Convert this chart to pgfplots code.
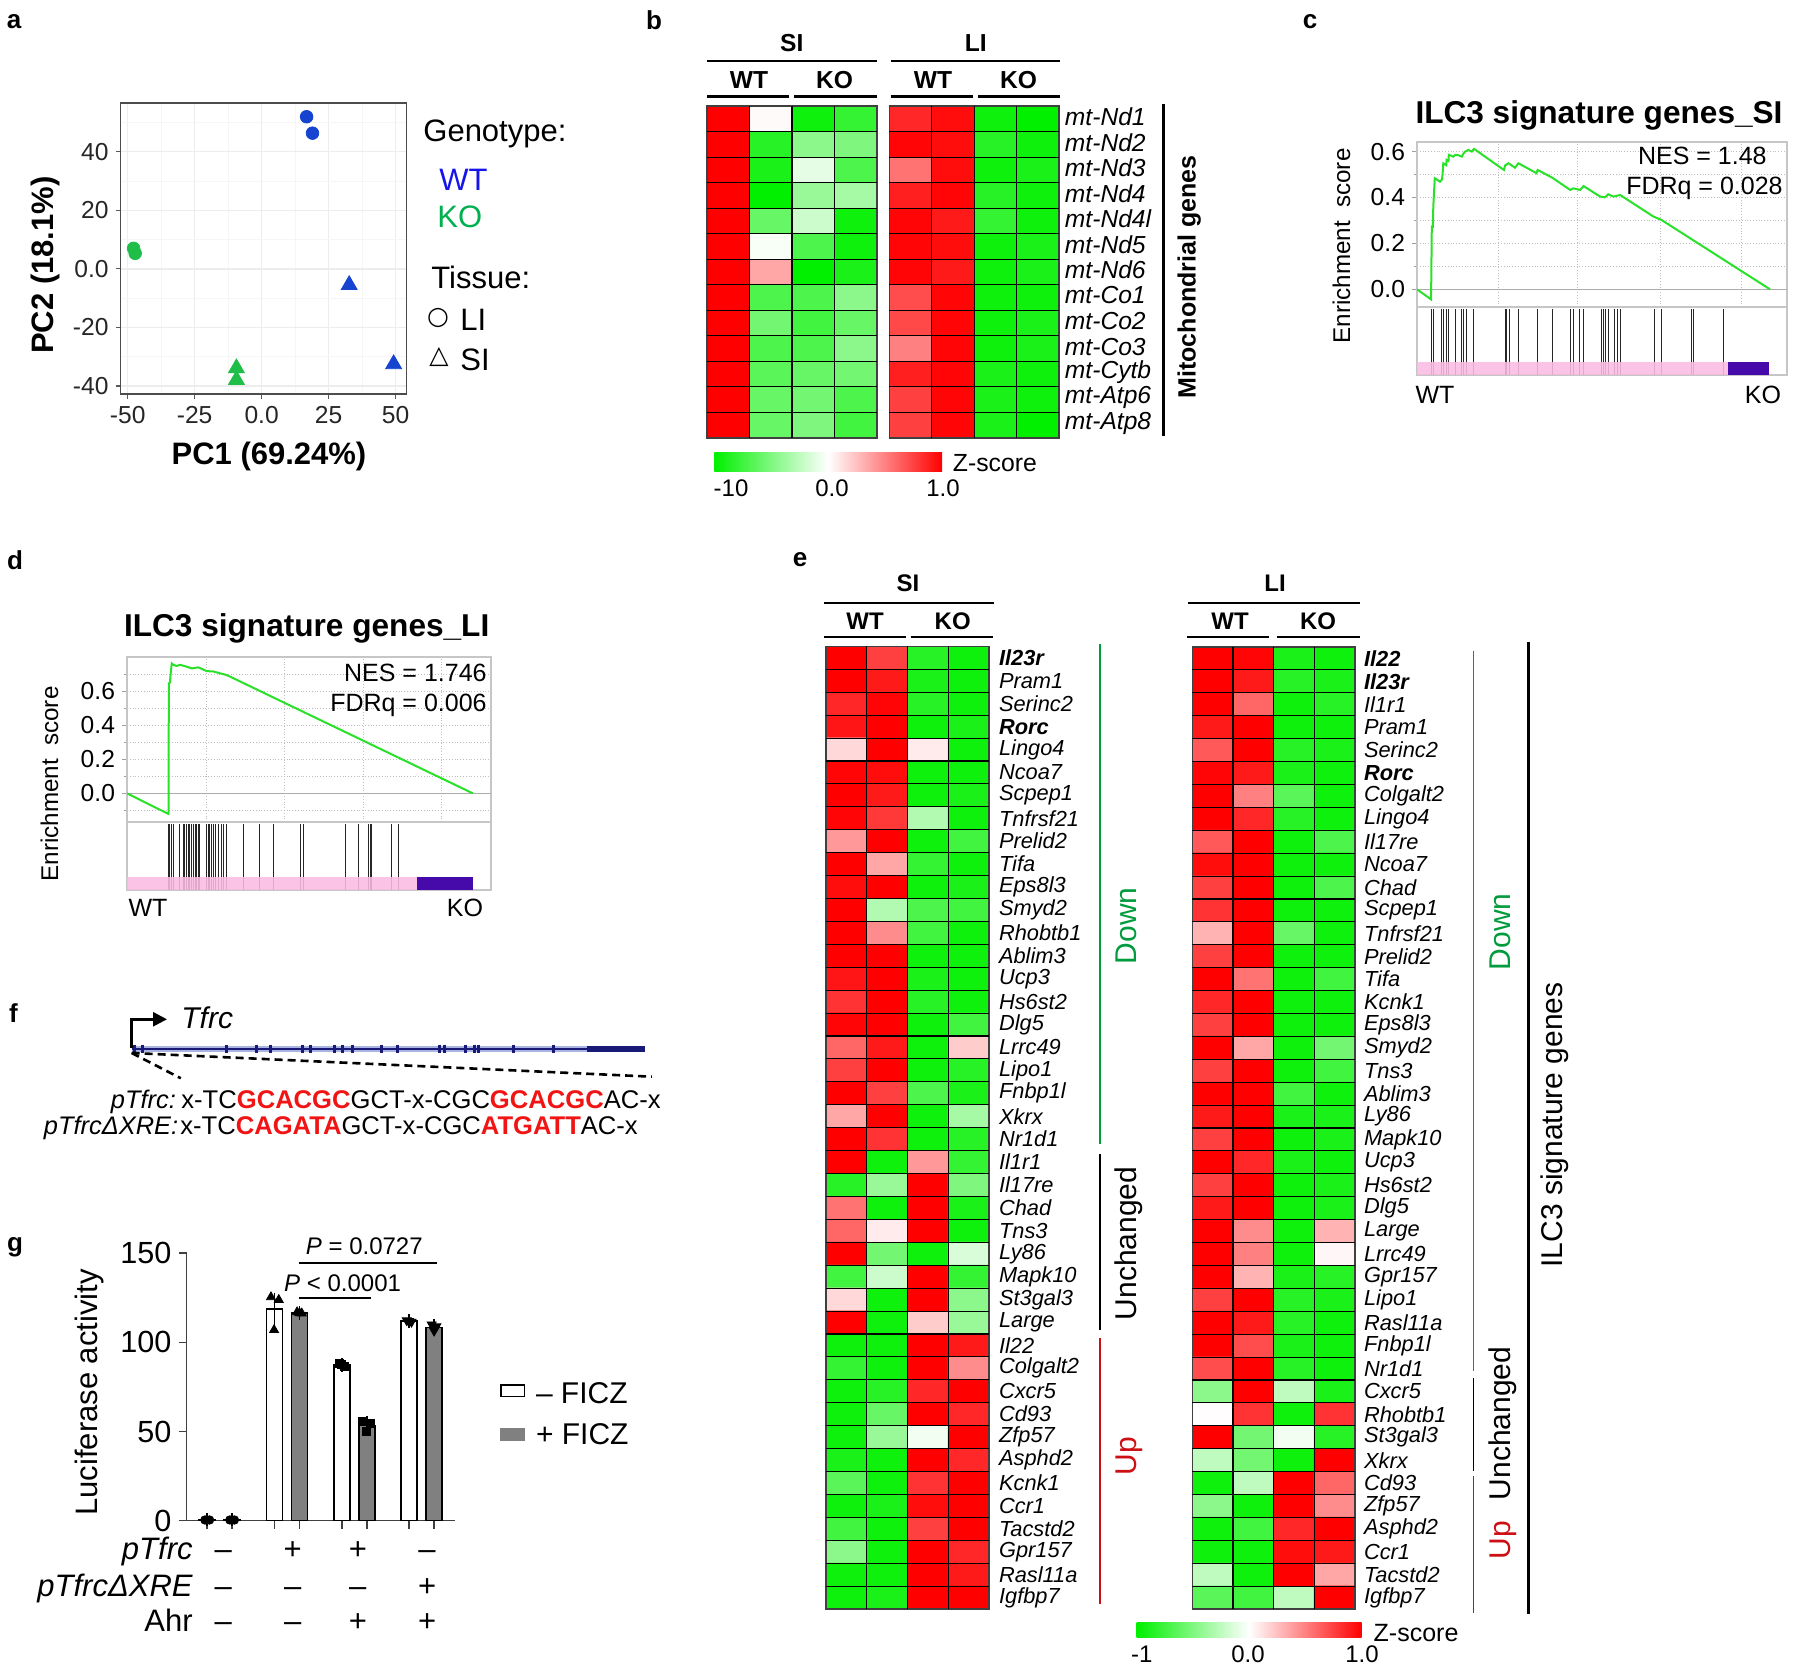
\documentclass[border=0pt]{standalone}
\usepackage{fontspec}
\setmainfont{Liberation Sans}
\newfontfamily\djv{DejaVu Sans}
\usepackage{pgfplots}
\pgfplotsset{compat=1.18}
\usetikzlibrary{arrows.meta}
\newcommand\fs[1]{\fontsize{#1}{#1}\selectfont}
\definecolor{pcablue}{RGB}{22,68,208}
\definecolor{pcagreen}{RGB}{30,190,72}
\definecolor{wtblue}{RGB}{20,20,235}
\definecolor{kogreen}{RGB}{0,175,80}
\definecolor{gseagreen}{RGB}{40,225,40}
\definecolor{gseapink}{RGB}{250,188,228}
\definecolor{gseapurple}{RGB}{70,10,170}
\definecolor{downgreen}{RGB}{0,155,60}
\definecolor{upred}{RGB}{205,15,20}
\definecolor{seqred}{RGB}{240,20,20}
\definecolor{genenavy}{RGB}{25,25,120}
\definecolor{genelight}{RGB}{170,180,225}
\definecolor{barfill}{RGB}{128,128,128}
\definecolor{hmgreen}{RGB}{0,240,0}
\pgfplotsset{
  every axis/.append style={/pgf/number format/assume math mode=true},
  heat/.style={scale only axis, xmin=-0.5, xmax=3.5, y dir=reverse,
    colormap={zs}{rgb255=(0,240,0) rgb255=(255,255,255) rgb255=(255,0,0)},
    point meta min=-1, point meta max=1,
    xtick=\empty,
    extra x ticks={0.5,1.5,2.5}, extra x tick labels={},
    extra x tick style={grid=major},
    major grid style={black, line width=0.55pt},
    major tick length=0pt,
    axis on top,
    axis line style={black!75, line width=0.6pt},
  },
  gsea/.style={scale only axis, xmin=0, xmax=1,
    xticklabels={}, xtick style={draw=none},
    ytick={0,0.2,0.4,0.6},
    ytick pos=left, tick align=outside,
    major tick length=2.5pt, minor tick length=1.5pt,
    yticklabel style={/pgf/number format/fixed, /pgf/number format/fixed zerofill, /pgf/number format/precision=1, font=\fs{12.3}},
    xmajorgrids, ymajorgrids, yminorgrids,
    major grid style={densely dotted, gray!50, line width=0.5pt},
    minor grid style={densely dotted, gray!50, line width=0.5pt},
    axis line style={gray!45, line width=0.7pt},
    ytick style={gray!75, line width=0.5pt},
  },
  gseabot/.style={scale only axis, xmin=0, xmax=1, ymin=0, ymax=1, ticks=none,
    axis line style={gray!45, line width=0.7pt}},
}
\begin{document}
\begin{tikzpicture}
\useasboundingbox (0,0) rectangle (900pt,835pt);

%================ panel a ================
\begin{axis}[at={(60.3pt,638pt)}, anchor=south west, scale only axis, width=142.95pt, height=145.5pt,
 xmin=-52.65, xmax=54.1, ymin=-42.7, ymax=56.6,
 xtick={-50,-25,0,25,50}, xticklabels={-50,-25,0.0,25,50},
 ytick={-40,-20,0,20,40}, yticklabels={-40,-20,0.0,20,40},
 minor xtick={-37.5,-12.5,12.5,37.5}, minor ytick={-30,-10,10,30,50},
 grid=both, major grid style={gray!14, line width=0.7pt}, minor grid style={gray!7, line width=0.4pt},
 tick align=outside, major tick length=2.5pt, minor tick length=0pt, tick pos=left,
 tick style={gray!70!black, line width=0.6pt},
 axis line style={gray!60!black, line width=0.6pt},
 tick label style={font=\fs{12.3}, text=black!85}]
\addplot[only marks, mark=*, mark size=3.15pt, pcablue] coordinates {(16.8,51.9)(19,46.3)};
\addplot[only marks, mark=*, mark size=3.15pt, pcagreen] coordinates {(-47.8,7.0)(-47.2,5.3)};
\addplot[only marks, mark=triangle*, mark size=4.6pt, pcablue] coordinates {(32.7,-5.5)(49.3,-32.5)};
\addplot[only marks, mark=triangle*, mark size=4.6pt, pcagreen] coordinates {(-9.4,-33.9)(-9.4,-37.9)};
\end{axis}

%================ panel b SI ================
\begin{axis}[heat, at={(353.5pt,616pt)}, anchor=south west, width=85pt, height=166pt,
 ymin=-0.5, ymax=12.5, ytick=\empty,
 extra y ticks={0.5,1.5,...,11.5}, extra y tick labels={}, extra y tick style={grid=major}]
\addplot[matrix plot*, mesh/cols=4, point meta=explicit] table[meta=c, row sep=\\]{
x y c\\
0 0 1\\ 1 0 0.02\\ 2 0 -0.95\\ 3 0 -0.8\\
0 1 1\\ 1 1 -0.85\\ 2 1 -0.45\\ 3 1 -0.5\\
0 2 1\\ 1 2 -0.9\\ 2 2 -0.1\\ 3 2 -0.7\\
0 3 1\\ 1 3 -1\\ 2 3 -0.4\\ 3 3 -0.35\\
0 4 1\\ 1 4 -0.6\\ 2 4 -0.2\\ 3 4 -0.95\\
0 5 1\\ 1 5 -0.03\\ 2 5 -0.7\\ 3 5 -0.95\\
0 6 1\\ 1 6 0.35\\ 2 6 -1\\ 3 6 -0.9\\
0 7 1\\ 1 7 -0.7\\ 2 7 -0.7\\ 3 7 -0.45\\
0 8 1\\ 1 8 -0.55\\ 2 8 -0.75\\ 3 8 -0.6\\
0 9 1\\ 1 9 -0.7\\ 2 9 -0.7\\ 3 9 -0.45\\
0 10 1\\ 1 10 -0.65\\ 2 10 -0.6\\ 3 10 -0.55\\
0 11 1\\ 1 11 -0.6\\ 2 11 -0.55\\ 3 11 -0.7\\
0 12 1\\ 1 12 -0.6\\ 2 12 -0.5\\ 3 12 -0.75\\
};
\end{axis}

%================ panel b LI ================
\begin{axis}[heat, at={(444.65pt,616pt)}, anchor=south west, width=84.8pt, height=166pt,
 ymin=-0.5, ymax=12.5, ytick={0,...,12}, yticklabel pos=right,
 yticklabels={mt-Nd1,mt-Nd2,mt-Nd3,mt-Nd4,mt-Nd4l,mt-Nd5,mt-Nd6,mt-Co1,mt-Co2,mt-Co3,mt-Cytb,mt-Atp6,mt-Atp8},
 yticklabel style={font=\itshape\fs{12.3}, xshift=-0.5pt, yshift=1pt},
 extra y ticks={0.5,1.5,...,11.5}, extra y tick labels={}, extra y tick style={grid=major}]
\addplot[matrix plot*, mesh/cols=4, point meta=explicit] table[meta=c, row sep=\\]{
x y c\\
0 0 0.85\\ 1 0 0.95\\ 2 0 -0.95\\ 3 0 -1\\
0 1 0.98\\ 1 1 0.95\\ 2 1 -0.85\\ 3 1 -0.95\\
0 2 0.55\\ 1 2 0.95\\ 2 2 -0.95\\ 3 2 -0.9\\
0 3 0.88\\ 1 3 0.98\\ 2 3 -0.85\\ 3 3 -0.95\\
0 4 0.98\\ 1 4 0.9\\ 2 4 -0.8\\ 3 4 -0.95\\
0 5 0.98\\ 1 5 0.95\\ 2 5 -0.95\\ 3 5 -0.9\\
0 6 0.98\\ 1 6 0.9\\ 2 6 -0.95\\ 3 6 -0.9\\
0 7 0.7\\ 1 7 0.98\\ 2 7 -0.95\\ 3 7 -0.95\\
0 8 0.72\\ 1 8 0.98\\ 2 8 -0.95\\ 3 8 -0.9\\
0 9 0.5\\ 1 9 0.98\\ 2 9 -0.95\\ 3 9 -0.9\\
0 10 0.88\\ 1 10 0.98\\ 2 10 -0.9\\ 3 10 -0.95\\
0 11 0.75\\ 1 11 0.98\\ 2 11 -0.9\\ 3 11 -0.95\\
0 12 0.75\\ 1 12 0.98\\ 2 12 -0.9\\ 3 12 -1\\
};
\end{axis}

%================ panel c ================
\begin{axis}[gsea, at={(708.5pt,681.5pt)}, anchor=south west, width=185pt, height=82.5pt,
 ymin=-0.077, ymax=0.642, xtick={0.219,0.435,0.657,0.878}, minor ytick={0.1,0.3,0.5}]
\addplot[gray!65, line width=0.7pt] coordinates {(0,0)(1,0)};
\addplot[gseagreen, line width=1pt] coordinates {
(0,0) (0.038,-0.044) (0.040,0.273) (0.043,0.272) (0.044,0.360) (0.046,0.421) (0.048,0.484)
(0.062,0.469) (0.067,0.478) (0.069,0.498) (0.071,0.549) (0.079,0.541) (0.080,0.564) (0.085,0.559) (0.086,0.586)
(0.098,0.578) (0.103,0.586) (0.112,0.584) (0.121,0.578) (0.125,0.590) (0.130,0.600) (0.139,0.607) (0.148,0.600) (0.154,0.612)
(0.235,0.520) (0.238,0.540) (0.247,0.549) (0.265,0.530) (0.274,0.549) (0.323,0.506) (0.326,0.520) (0.366,0.486)
(0.414,0.433) (0.422,0.440) (0.441,0.433) (0.450,0.450) (0.495,0.404) (0.508,0.401) (0.517,0.414) (0.531,0.404) (0.549,0.411)
(0.639,0.317) (0.661,0.302) (0.954,0)};
\end{axis}
\begin{axis}[gseabot, at={(708.5pt,681.5pt)}, anchor=north west, width=185pt, height=34pt]
\addplot[ycomb, black!85, line width=0.5pt, no markers] coordinates {
(0.040,0.97)(0.044,0.97)(0.067,0.97)(0.071,0.97)(0.080,0.97)(0.086,0.97)(0.103,0.97)(0.121,0.97)(0.125,0.97)(0.134,0.97)(0.152,0.97)
(0.238,0.97)(0.242,0.97)(0.251,0.97)(0.274,0.97)(0.325,0.97)(0.366,0.97)(0.415,0.97)(0.422,0.97)(0.438,0.97)(0.449,0.97)
(0.498,0.97)(0.505,0.97)(0.510,0.97)(0.517,0.97)(0.535,0.97)(0.541,0.97)(0.549,0.97)(0.641,0.97)(0.661,0.97)(0.742,0.97)(0.746,0.97)(0.827,0.97)};
\addplot[fill=gseapink, draw=none, fill opacity=0.88] coordinates {(0,0.19)(0.841,0.19)} \closedcycle;
\addplot[fill=gseapurple, draw=none] coordinates {(0.841,0.19)(0.951,0.19)} \closedcycle;
\end{axis}

%================ panel d ================
\begin{axis}[gsea, at={(63.5pt,424pt)}, anchor=south west, width=182pt, height=82.5pt,
 ymin=-0.168, ymax=0.80, xtick={0.219,0.434,0.649,0.865}, minor ytick={-0.1,0.1,0.3,0.5,0.7}]
\addplot[gray!65, line width=0.7pt] coordinates {(0,0)(1,0)};
\addplot[gseagreen, line width=1pt] coordinates {
(0,0) (0.114,-0.121) (0.115,0.645) (0.118,0.650) (0.120,0.704) (0.123,0.762) (0.127,0.755) (0.136,0.747) (0.146,0.754)
(0.164,0.743) (0.178,0.733) (0.196,0.739) (0.219,0.717) (0.237,0.715) (0.256,0.704) (0.274,0.694) (0.950,0)};
\end{axis}
\begin{axis}[gseabot, at={(63.5pt,424pt)}, anchor=north west, width=182pt, height=34pt]
\addplot[ycomb, black!85, line width=0.5pt, no markers] coordinates {
(0.114,0.97)(0.118,0.97)(0.123,0.97)(0.127,0.97)(0.144,0.97)(0.155,0.97)(0.159,0.97)(0.164,0.97)(0.168,0.97)(0.173,0.97)
(0.178,0.97)(0.182,0.97)(0.187,0.97)(0.191,0.97)(0.196,0.97)(0.200,0.97)(0.219,0.97)(0.224,0.97)(0.228,0.97)(0.233,0.97)
(0.237,0.97)(0.244,0.97)(0.251,0.97)(0.260,0.97)(0.265,0.97)(0.272,0.97)(0.321,0.97)(0.364,0.97)(0.402,0.97)(0.477,0.97)
(0.484,0.97)(0.599,0.97)(0.636,0.97)(0.663,0.97)(0.668,0.97)(0.672,0.97)(0.727,0.97)(0.745,0.97)};
\addplot[fill=gseapink, draw=none, fill opacity=0.88] coordinates {(0,0.19)(0.797,0.19)} \closedcycle;
\addplot[fill=gseapurple, draw=none] coordinates {(0.797,0.19)(0.951,0.19)} \closedcycle;
\end{axis}

%================ panel e SI ================
\begin{axis}[heat, at={(413pt,30.5pt)}, anchor=south west, width=81.5pt, height=481.3pt,
 ymin=-0.5, ymax=41.5, ytick={0,...,41}, yticklabel pos=right,
 yticklabels={{\bfseries Il23r},Pram1,Serinc2,{\bfseries Rorc},Lingo4,Ncoa7,Scpep1,Tnfrsf21,Prelid2,Tifa,Eps8l3,Smyd2,Rhobtb1,Ablim3,Ucp3,Hs6st2,Dlg5,Lrrc49,Lipo1,Fnbp1l,Xkrx,Nr1d1,Il1r1,Il17re,Chad,Tns3,Ly86,Mapk10,St3gal3,Large,Il22,Colgalt2,Cxcr5,Cd93,Zfp57,Asphd2,Kcnk1,Ccr1,Tacstd2,Gpr157,Rasl11a,Igfbp7},
 yticklabel style={font=\itshape\fs{10.9}, xshift=1.5pt},
 extra y ticks={0.5,1.5,...,40.5}, extra y tick labels={}, extra y tick style={grid=major}]
\addplot[matrix plot*, mesh/cols=4, point meta=explicit] table[meta=c, row sep=\\]{
x y c\\
0 0 1\\ 1 0 0.75\\ 2 0 -0.85\\ 3 0 -0.95\\
0 1 1\\ 1 1 0.9\\ 2 1 -0.9\\ 3 1 -0.95\\
0 2 0.85\\ 1 2 0.98\\ 2 2 -0.85\\ 3 2 -0.95\\
0 3 0.92\\ 1 3 1\\ 2 3 -0.95\\ 3 3 -0.9\\
0 4 0.15\\ 1 4 1\\ 2 4 0.08\\ 3 4 -0.95\\
0 5 0.98\\ 1 5 0.95\\ 2 5 -0.95\\ 3 5 -0.95\\
0 6 1\\ 1 6 0.9\\ 2 6 -0.95\\ 3 6 -0.9\\
0 7 0.98\\ 1 7 0.78\\ 2 7 -0.3\\ 3 7 -0.95\\
0 8 0.4\\ 1 8 1\\ 2 8 -0.95\\ 3 8 -0.75\\
0 9 1\\ 1 9 0.35\\ 2 9 -0.8\\ 3 9 -0.95\\
0 10 0.95\\ 1 10 1\\ 2 10 -0.95\\ 3 10 -0.9\\
0 11 1\\ 1 11 -0.3\\ 2 11 -0.7\\ 3 11 -0.75\\
0 12 1\\ 1 12 0.45\\ 2 12 -0.75\\ 3 12 -0.95\\
0 13 1\\ 1 13 1\\ 2 13 -0.95\\ 3 13 -0.95\\
0 14 0.92\\ 1 14 1\\ 2 14 -0.9\\ 3 14 -0.95\\
0 15 0.8\\ 1 15 1\\ 2 15 -0.85\\ 3 15 -0.95\\
0 16 0.98\\ 1 16 1\\ 2 16 -0.95\\ 3 16 -0.75\\
0 17 0.6\\ 1 17 0.9\\ 2 17 -0.95\\ 3 17 0.2\\
0 18 0.75\\ 1 18 1\\ 2 18 -0.95\\ 3 18 -0.85\\
0 19 1\\ 1 19 0.75\\ 2 19 -0.7\\ 3 19 -0.9\\
0 20 0.35\\ 1 20 1\\ 2 20 -0.95\\ 3 20 -0.35\\
0 21 1\\ 1 21 0.8\\ 2 21 -0.95\\ 3 21 -0.85\\
0 22 1\\ 1 22 -0.95\\ 2 22 0.4\\ 3 22 -0.8\\
0 23 -0.85\\ 1 23 -0.4\\ 2 23 1\\ 3 23 -0.5\\
0 24 0.55\\ 1 24 -0.95\\ 2 24 1\\ 3 24 -0.9\\
0 25 0.6\\ 1 25 0.08\\ 2 25 1\\ 3 25 -0.95\\
0 26 1\\ 1 26 -0.55\\ 2 26 -0.95\\ 3 26 -0.15\\
0 27 -0.75\\ 1 27 -0.2\\ 2 27 1\\ 3 27 -0.8\\
0 28 0.15\\ 1 28 -0.95\\ 2 28 1\\ 3 28 -0.45\\
0 29 1\\ 1 29 -0.95\\ 2 29 0.2\\ 3 29 -0.4\\
0 30 -0.95\\ 1 30 -0.95\\ 2 30 1\\ 3 30 0.9\\
0 31 -0.8\\ 1 31 -0.95\\ 2 31 1\\ 3 31 0.45\\
0 32 -0.95\\ 1 32 -0.85\\ 2 32 0.85\\ 3 32 1\\
0 33 -0.95\\ 1 33 -0.6\\ 2 33 1\\ 3 33 0.85\\
0 34 -0.95\\ 1 34 -0.4\\ 2 34 -0.05\\ 3 34 1\\
0 35 -0.9\\ 1 35 -0.95\\ 2 35 1\\ 3 35 0.85\\
0 36 -0.65\\ 1 36 -0.95\\ 2 36 0.8\\ 3 36 1\\
0 37 -0.95\\ 1 37 -0.9\\ 2 37 0.95\\ 3 37 1\\
0 38 -0.75\\ 1 38 -0.95\\ 2 38 0.75\\ 3 38 1\\
0 39 -0.45\\ 1 39 -0.95\\ 2 39 1\\ 3 39 0.85\\
0 40 -0.95\\ 1 40 -0.95\\ 2 40 1\\ 3 40 0.9\\
0 41 -0.95\\ 1 41 -0.9\\ 2 41 1\\ 3 41 1\\
};
\end{axis}

%================ panel e LI ================
\begin{axis}[heat, at={(596.15pt,30.5pt)}, anchor=south west, width=81.35pt, height=481pt,
 ymin=-0.5, ymax=41.5, ytick={0,...,41}, yticklabel pos=right,
 yticklabels={{\bfseries Il22},{\bfseries Il23r},Il1r1,Pram1,Serinc2,{\bfseries Rorc},Colgalt2,Lingo4,Il17re,Ncoa7,Chad,Scpep1,Tnfrsf21,Prelid2,Tifa,Kcnk1,Eps8l3,Smyd2,Tns3,Ablim3,Ly86,Mapk10,Ucp3,Hs6st2,Dlg5,Large,Lrrc49,Gpr157,Lipo1,Rasl11a,Fnbp1l,Nr1d1,Cxcr5,Rhobtb1,St3gal3,Xkrx,Cd93,Zfp57,Asphd2,Ccr1,Tacstd2,Igfbp7},
 yticklabel style={font=\itshape\fs{10.9}, xshift=1pt},
 extra y ticks={0.5,1.5,...,40.5}, extra y tick labels={}, extra y tick style={grid=major}]
\addplot[matrix plot*, mesh/cols=4, point meta=explicit] table[meta=c, row sep=\\]{
x y c\\
0 0 1\\ 1 0 0.98\\ 2 0 -0.9\\ 3 0 -0.95\\
0 1 1\\ 1 1 0.9\\ 2 1 -0.85\\ 3 1 -0.9\\
0 2 1\\ 1 2 0.6\\ 2 2 -0.95\\ 3 2 -0.85\\
0 3 0.9\\ 1 3 1\\ 2 3 -0.95\\ 3 3 -0.95\\
0 4 0.65\\ 1 4 1\\ 2 4 -0.85\\ 3 4 -0.9\\
0 5 0.98\\ 1 5 0.9\\ 2 5 -0.9\\ 3 5 -0.95\\
0 6 1\\ 1 6 0.5\\ 2 6 -0.65\\ 3 6 -0.95\\
0 7 1\\ 1 7 0.85\\ 2 7 -0.85\\ 3 7 -0.95\\
0 8 0.65\\ 1 8 1\\ 2 8 -0.95\\ 3 8 -0.7\\
0 9 0.95\\ 1 9 1\\ 2 9 -0.95\\ 3 9 -0.95\\
0 10 0.75\\ 1 10 1\\ 2 10 -0.95\\ 3 10 -0.7\\
0 11 0.8\\ 1 11 1\\ 2 11 -0.95\\ 3 11 -0.95\\
0 12 0.3\\ 1 12 1\\ 2 12 -0.6\\ 3 12 -0.95\\
0 13 0.75\\ 1 13 1\\ 2 13 -0.95\\ 3 13 -0.95\\
0 14 1\\ 1 14 0.55\\ 2 14 -0.95\\ 3 14 -0.75\\
0 15 0.85\\ 1 15 1\\ 2 15 -0.95\\ 3 15 -0.95\\
0 16 0.75\\ 1 16 1\\ 2 16 -0.95\\ 3 16 -0.95\\
0 17 1\\ 1 17 0.35\\ 2 17 -0.95\\ 3 17 -0.55\\
0 18 0.75\\ 1 18 1\\ 2 18 -0.95\\ 3 18 -0.75\\
0 19 1\\ 1 19 1\\ 2 19 -0.75\\ 3 19 -0.95\\
0 20 0.9\\ 1 20 1\\ 2 20 -0.9\\ 3 20 -0.9\\
0 21 0.75\\ 1 21 1\\ 2 21 -0.95\\ 3 21 -0.9\\
0 22 1\\ 1 22 0.85\\ 2 22 -0.9\\ 3 22 -0.95\\
0 23 0.75\\ 1 23 1\\ 2 23 -0.95\\ 3 23 -0.9\\
0 24 0.9\\ 1 24 1\\ 2 24 -0.95\\ 3 24 -0.9\\
0 25 1\\ 1 25 0.45\\ 2 25 -0.95\\ 3 25 0.3\\
0 26 1\\ 1 26 0.5\\ 2 26 -0.95\\ 3 26 0.03\\
0 27 1\\ 1 27 0.3\\ 2 27 -0.9\\ 3 27 -0.85\\
0 28 0.75\\ 1 28 1\\ 2 28 -0.85\\ 3 28 -0.9\\
0 29 1\\ 1 29 0.9\\ 2 29 -0.85\\ 3 29 -0.95\\
0 30 1\\ 1 30 0.7\\ 2 30 -0.9\\ 3 30 -0.95\\
0 31 0.7\\ 1 31 1\\ 2 31 -0.85\\ 3 31 -0.95\\
0 32 -0.45\\ 1 32 1\\ 2 32 -0.25\\ 3 32 -0.9\\
0 33 0.01\\ 1 33 0.8\\ 2 33 -0.95\\ 3 33 0.8\\
0 34 1\\ 1 34 -0.55\\ 2 34 -0.05\\ 3 34 -0.85\\
0 35 -0.25\\ 1 35 -0.55\\ 2 35 -0.95\\ 3 35 1\\
0 36 -0.95\\ 1 36 -0.25\\ 2 36 1\\ 3 36 0.6\\
0 37 -0.45\\ 1 37 -0.95\\ 2 37 1\\ 3 37 0.45\\
0 38 -0.95\\ 1 38 -0.75\\ 2 38 0.85\\ 3 38 1\\
0 39 -0.95\\ 1 39 -0.95\\ 2 39 0.95\\ 3 39 0.9\\
0 40 -0.25\\ 1 40 -0.95\\ 2 40 1\\ 3 40 0.35\\
0 41 -0.65\\ 1 41 -0.75\\ 2 41 -0.25\\ 3 41 1\\
};
\end{axis}

%================ panel f gene model ================
\begin{axis}[at={(65pt,308pt)}, anchor=south west, scale only axis, width=260pt, height=5pt,
 xmin=130, xmax=650, ymin=-1, ymax=1, hide axis, clip=false]
\addplot[genelight, line width=3pt] coordinates {(131.7,0)(645,0)};
\addplot[genenavy, line width=1pt] coordinates {(131.7,0)(645,0)};
\addplot[genenavy, only marks, mark=|, mark size=2.2pt, mark options={line width=1.5pt}] coordinates {
(134,0)(142,0)(226.8,0)(256.7,0)(270,0)(302.7,0)(310.3,0)(334.8,0)(342.9,0)(352.7,0)(381.7,0)(397.3,0)(439.7,0)(444.2,0)(465.2,0)(474.1,0)(478.6,0)(513.4,0)(553.6,0)};
\addplot[genenavy, line width=3pt] coordinates {(587,0)(645,0)};
\end{axis}

%================ panel g ================
\begin{axis}[at={(93.25pt,74.65pt)}, anchor=south west, scale only axis, width=134pt, height=133.7pt,
 xmin=0.507, xmax=4.489, ymin=0, ymax=150,
 axis x line=bottom, axis y line=left, axis line style={-, black!75, line width=0.8pt},
 ytick={0,50,100,150}, xtick={0.814,1.186,1.814,2.186,2.814,3.186,3.814,4.186}, xticklabels={},
 tick align=outside, major tick length=4pt, tick style={black!75, line width=0.8pt},
 yticklabel style={font=\fs{15.3}}, clip=false]
\addplot[ybar, bar width=0.238, bar shift=0pt, fill=white, draw=black, line width=0.75pt,
 error bars/.cd, y dir=both, y explicit, error bar style={line width=0.75pt, black}, error mark options={mark size=3pt, line width=0.75pt, black}]
 coordinates {(0.814,0.5) +- (0,0.2) (1.814,118.8) +- (0,5.6) (2.814,87.4) +- (0,0.6) (3.814,111.9) +- (0,0.5)};
\addplot[ybar, bar width=0.238, bar shift=0pt, fill=barfill, draw=black, line width=0.75pt,
 error bars/.cd, y dir=both, y explicit, error bar style={line width=0.75pt, black}, error mark options={mark size=3pt, line width=0.75pt, black}]
 coordinates {(1.186,0.5) +- (0,0.2) (2.186,116.6) +- (0,0.5) (3.186,53.4) +- (0,1.8) (4.186,108.5) +- (0,1)};
\addplot[only marks, mark=*, mark size=2.1pt, black] coordinates {(0.78,0.4)(0.814,0.4)(0.85,0.4)(1.15,0.4)(1.186,0.4)(1.22,0.4)};
\addplot[only marks, mark=triangle*, mark size=2.6pt, black] coordinates {(1.762,125.4)(1.878,123.9)(1.808,107)(2.15,117)(2.186,116.5)(2.22,116.3)};
\addplot[only marks, mark=square*, mark size=2pt, black] coordinates {(2.78,88)(2.814,87.5)(2.85,86.8)(3.12,55.6)(3.245,54.5)(3.18,50)};
\addplot[only marks, mark=triangle*, mark size=2.6pt, mark options={rotate=180}, black] coordinates {(3.78,112.3)(3.814,112)(3.85,111.5)(4.15,110)(4.186,106.5)(4.22,109)};
\end{axis}

%================ annotations ================
\begin{scope}[x=0.5pt, y=-0.5pt, yshift=835pt, every node/.style={inner sep=0pt}]
% panel letters
\node[font=\fs{13}\bfseries] at (14,22) {a};
\node[font=\fs{13}\bfseries] at (654,20) {b};
\node[font=\fs{13}\bfseries] at (1310,22) {c};
\node[font=\fs{13}\bfseries] at (15,560) {d};
\node[font=\fs{13}\bfseries] at (800,560) {e};
\node[font=\fs{13}\bfseries] at (13.4,1013) {f};
\node[font=\fs{13}\bfseries] at (15,1247) {g};

% panel a labels and legend
\node[anchor=base, font=\fs{15.5}\bfseries] at (269,465) {PC1 (69.24\%)};
\node[anchor=base, rotate=90, font=\fs{15.5}\bfseries] at (54,265) {PC2 (18.1\%)};
\node[anchor=base west, font=\fs{15.5}] at (423,141.5) {Genotype:};
\node[anchor=base west, font=\fs{15.5}, text=wtblue] at (439,191) {WT};
\node[anchor=base west, font=\fs{15.5}, text=kogreen] at (437,228) {KO};
\node[anchor=base west, font=\fs{15.5}] at (431,289) {Tissue:};
\node[font=\djv\fs{12.5}] at (438,318) {○};
\node[anchor=base west, font=\fs{15.5}] at (460,331) {LI};
\node[font=\djv\fs{12.5}] at (439,357) {△};
\node[anchor=base west, font=\fs{15.5}] at (460,371) {SI};

% panel b headers
\begin{scope}[line width=1.4pt]
\draw (707,61)--(877,61); \draw (707,96.7)--(789,96.7); \draw (794.3,96.7)--(877,96.7);
\draw (890.7,61)--(1060.4,61); \draw (890.7,96.7)--(972.9,96.7); \draw (978.2,96.7)--(1060.4,96.7);
\end{scope}
\node[anchor=base, font=\fs{12.3}\bfseries] at (791.8,51.8) {SI};
\node[anchor=base, font=\fs{12.3}\bfseries] at (749,88.8) {WT};
\node[anchor=base, font=\fs{12.3}\bfseries] at (834.6,88.8) {KO};
\node[anchor=base, font=\fs{12.3}\bfseries] at (975.7,51.8) {LI};
\node[anchor=base, font=\fs{12.3}\bfseries] at (932.9,88.8) {WT};
\node[anchor=base, font=\fs{12.3}\bfseries] at (1018.6,88.8) {KO};
\draw[line width=1.3pt] (1163.2,104)--(1163.2,436);
\node[anchor=base, rotate=90, font=\fs{12.5}\bfseries] at (1195.5,277) {Mitochondrial genes};
\shade[left color=hmgreen, right color=red, middle color=white] (714.3,453) rectangle (942.1,472);
\node[anchor=base west, font=\fs{12.4}] at (952.5,471.9) {Z-score};
\node[anchor=base, font=\fs{12}] at (731,496.6) {-10};
\node[anchor=base, font=\fs{12}] at (832,496.6) {0.0};
\node[anchor=base, font=\fs{12}] at (943,496.6) {1.0};

% panel c text
\node[anchor=base, font=\fs{15.8}\bfseries] at (1599,123.5) {ILC3 signature genes\_SI};
\node[anchor=base east, font=\fs{12.5}] at (1767,165) {NES = 1.48};
\node[anchor=base east, font=\fs{12.5}] at (1783,195) {FDRq = 0.028};
\node[anchor=base, rotate=90, font=\fs{12.1}] at (1350,246) {Enrichment\ \ score};
\node[anchor=base, font=\fs{12.5}] at (1435,403.3) {WT};
\node[anchor=base, font=\fs{12.5}] at (1763,403.3) {KO};

% panel d text
\node[anchor=base, font=\fs{15.8}\bfseries] at (306.7,636.7) {ILC3 signature genes\_LI};
\node[anchor=base east, font=\fs{12.5}] at (487,681.7) {NES = 1.746};
\node[anchor=base east, font=\fs{12.5}] at (487,711.7) {FDRq = 0.006};
\node[anchor=base, rotate=90, font=\fs{12.1}] at (58,784) {Enrichment\ \ score};
\node[anchor=base, font=\fs{12.5}] at (148,916.7) {WT};
\node[anchor=base, font=\fs{12.5}] at (465,916.7) {KO};

% panel e headers
\begin{scope}[line width=1.1pt]
\draw (824,603)--(994,603); \draw (824,636.8)--(906,636.8); \draw (910.7,636.8)--(992.7,636.8);
\draw (1188,603)--(1360,603); \draw (1186.7,636.8)--(1269,636.8); \draw (1276.7,636.8)--(1360,636.8);
\end{scope}
\node[anchor=base, font=\fs{12}\bfseries] at (908,592) {SI};
\node[anchor=base, font=\fs{12}\bfseries] at (865,629.3) {WT};
\node[anchor=base, font=\fs{12}\bfseries] at (952.7,629.3) {KO};
\node[anchor=base, font=\fs{12}\bfseries] at (1275,592) {LI};
\node[anchor=base, font=\fs{12}\bfseries] at (1230,629.3) {WT};
\node[anchor=base, font=\fs{12}\bfseries] at (1318,629.3) {KO};
% side groups SI
\draw[downgreen, line width=0.8pt] (1100,643.6)--(1100,1143.6);
\draw[black, line width=0.8pt] (1100,1154.5)--(1100,1329.8);
\draw[upred, line width=0.8pt] (1100,1338)--(1100,1603.6);
\node[anchor=base, rotate=90, font=\fs{15}, text=downgreen] at (1136.5,926) {Down};
\node[anchor=base, rotate=90, font=\fs{15}] at (1136.5,1243.6) {Unchanged};
\node[anchor=base, rotate=90, font=\fs{15}, text=upred] at (1136.5,1456) {Up};
% side groups LI
\draw[downgreen, line width=0.8pt] (1473.3,650.7)--(1473.3,1370.9);
\draw[black, line width=0.8pt] (1473.3,1378)--(1473.3,1471);
\draw[upred, line width=0.8pt] (1473.3,1476)--(1473.3,1612.7);
\node[anchor=base, rotate=90, font=\fs{15}, text=downgreen] at (1510,932) {Down};
\node[anchor=base, rotate=90, font=\fs{15}] at (1510,1423.6) {Unchanged};
\node[anchor=base, rotate=90, font=\fs{15}, text=upred] at (1510,1540) {Up};
\draw[black, line width=1.2pt] (1528.3,642)--(1528.3,1614.5);
\node[anchor=base, rotate=90, font=\fs{15}] at (1562,1125) {ILC3 signature genes};
% e colorbar
\shade[left color=hmgreen, right color=red, middle color=white] (1136.7,1623) rectangle (1361.7,1638);
\node[anchor=base west, font=\fs{12.5}] at (1373.3,1641.6) {Z-score};
\node[anchor=base, font=\fs{12}] at (1141.7,1663) {-1};
\node[anchor=base, font=\fs{12}] at (1248,1663) {0.0};
\node[anchor=base, font=\fs{12}] at (1362,1663) {1.0};

% panel f
\draw[line width=1.3pt, -{Triangle[length=7pt,width=7pt]}] (131.7,1048) -- (131.7,1019.3) -- (167,1019.3);
\node[anchor=base west, font=\itshape\fs{15}] at (181,1028.3) {Tfrc};
\draw[line width=1.3pt, dash pattern=on 4pt off 2.5pt] (131.7,1053) -- (180.8,1078.3);
\draw[line width=1.3pt, dash pattern=on 4pt off 2.5pt] (131.7,1053) -- (651.8,1076.7);
\node[anchor=base east, font=\itshape\fs{12.7}] at (176.3,1109) {pTfrc:};
\node[anchor=base west, font=\fs{12.8}] at (181,1109) {x-TC{\color{seqred}\bfseries GCACGC}GCT-x-CGC{\color{seqred}\bfseries GCACGC}AC-x};
\node[anchor=base east, font=\itshape\fs{12.7}] at (178.5,1135) {pTfrcΔXRE:};
\node[anchor=base west, font=\fs{12.8}] at (180,1135) {x-TC{\color{seqred}\bfseries CAGATA}GCT-x-CGC{\color{seqred}\bfseries ATGATT}AC-x};

% panel g text
\node[anchor=base, rotate=90, font=\fs{15.5}] at (98,1392.5) {Luciferase activity};
\node[anchor=base, font=\fs{12}] at (364.3,1255) {\textit{P} = 0.0727};
\draw[line width=1pt] (299.2,1263.3)--(437.1,1263.3);
\node[anchor=base, font=\fs{12}] at (342.6,1291.7) {\textit{P} < 0.0001};
\draw[line width=1pt] (299.2,1298.3)--(370.8,1298.3);
\node[anchor=base east, font=\itshape\fs{15.5}] at (193,1559.3) {pTfrc};
\node[anchor=base east, font=\itshape\fs{15.5}] at (193,1596.7) {pTfrcΔXRE};
\node[anchor=base east, font=\fs{15.5}] at (193,1631.7) {Ahr};
\foreach \xx/\s in {223.3/–,292.7/+,357.8/+,427.1/–} \node[anchor=base, font=\fs{15.5}] at (\xx,1559.3) {\s};
\foreach \xx/\s in {223.3/–,292.7/–,357.8/–,427.1/+} \node[anchor=base, font=\fs{15.5}] at (\xx,1596.7) {\s};
\foreach \xx/\s in {223.3/–,292.7/–,357.8/+,427.1/+} \node[anchor=base, font=\fs{15.5}] at (\xx,1631.7) {\s};
\draw[fill=white, line width=0.7pt] (500.9,1385) rectangle (524.7,1396.7);
\draw[fill=barfill, draw=barfill, line width=0.7pt] (500.9,1428.3) rectangle (524.7,1440);
\node[anchor=base west, font=\fs{15}] at (535.6,1403.3) {– FICZ};
\node[anchor=base west, font=\fs{15}] at (535.6,1445) {+ FICZ};
\end{scope}
\end{tikzpicture}
\end{document}
